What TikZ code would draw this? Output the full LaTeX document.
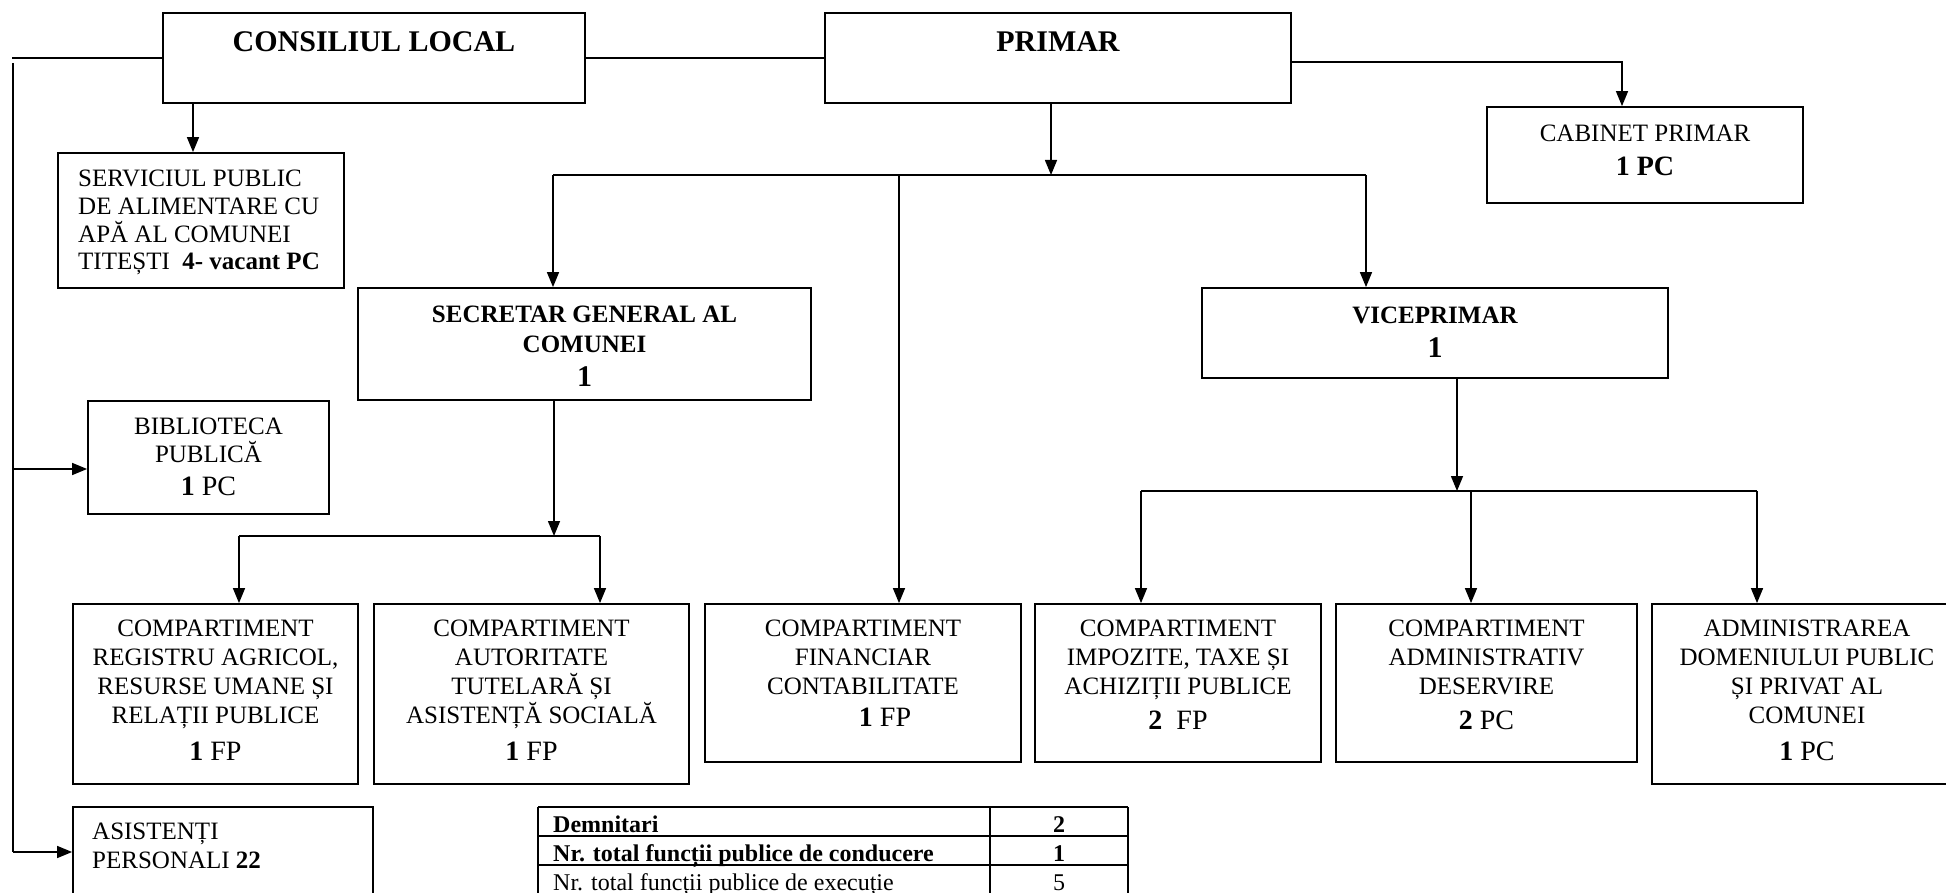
\documentclass[tikz,border=0pt]{standalone}
\usepackage{fontspec}
\setmainfont{Liberation Serif}
\usetikzlibrary{arrows.meta}
\newcommand{\myfs}[2]{\fontsize{#1}{#2}\selectfont}
\begin{document}
\begin{tikzpicture}[x=1pt,y=-1pt,
  box/.style={draw, line width=1.8pt, inner sep=0pt},
  txt/.style={inner sep=0pt, align=center, anchor=north, font=\myfs{25}{29}},
  ln/.style={line width=1.5pt},
  arr/.style={line width=1.5pt, -{Triangle[length=15pt,width=12pt]}},
  cell/.style={inner sep=0pt, anchor=base west, font=\myfs{24}{29}},
  num/.style={inner sep=0pt, anchor=base, font=\myfs{24}{29}}]
\useasboundingbox (0,0) rectangle (1946,893);
\clip (0,0) rectangle (1946,893);
\fill[white] (0,0) rectangle (1946,893);

% boxes
\node[box, minimum width=422pt, minimum height=90pt] (consiliul) at (374,58) {};
\node[txt, anchor=center, font=\bfseries\myfs{30}{36}] (consiliulT) at (374,42) {CONSILIUL LOCAL};
\node[box, minimum width=466pt, minimum height=90pt] (primar) at (1058,58) {};
\node[txt, anchor=center, font=\bfseries\myfs{30}{36}] (primarT) at (1058,42) {PRIMAR};
\node[box, minimum width=316pt, minimum height=96pt] (cabinet) at (1645,155) {};
\node[txt] (cabinetT) at (1645,125) {CABINET PRIMAR\\[5pt]{\myfs{28}{29}\bfseries 1 PC}};
\node[box, minimum width=286pt, minimum height=135pt] (serviciul) at (201,220.5) {};
\node[txt, anchor=north west, align=left, font=\myfs{25}{27.7}] (serviciulT) at (78,170)
  {SERVICIUL PUBLIC\\DE ALIMENTARE CU\\APĂ AL COMUNEI\\TITEȘTI\ \ \textbf{4- vacant PC}};
\node[box, minimum width=453pt, minimum height=112pt] (secretar) at (584.5,344) {};
\node[txt, font=\bfseries\myfs{25}{30}] (secretarT) at (584.5,306)
  {SECRETAR GENERAL AL\\COMUNEI\\[4pt]{\myfs{30}{30}1}};
\node[box, minimum width=466pt, minimum height=90pt] (vice) at (1435,333) {};
\node[txt, font=\bfseries\myfs{25}{29}] (viceT) at (1435,307)
  {VICEPRIMAR\\[4.5pt]{\myfs{30}{29}1}};
\node[box, minimum width=241pt, minimum height=113pt] (biblioteca) at (208.5,457.5) {};
\node[txt, font=\myfs{25}{28}] (bibliotecaT) at (208.5,418)
  {BIBLIOTECA\\PUBLICĂ\\[5pt]{\myfs{28}{28}\textbf{1} PC}};

\node[box, minimum width=285pt, minimum height=180pt] (c1) at (215.5,694) {};
\node[txt] (c1T) at (215.5,620)
  {COMPARTIMENT\\REGISTRU AGRICOL,\\RESURSE UMANE ȘI\\RELAȚII PUBLICE\\[8pt]{\myfs{28}{29}\textbf{1} FP}};
\node[box, minimum width=315pt, minimum height=180pt] (c2) at (531.5,694) {};
\node[txt] (c2T) at (531.5,620)
  {COMPARTIMENT\\AUTORITATE\\TUTELARĂ ȘI\\ASISTENȚĂ SOCIALĂ\\[8pt]{\myfs{28}{29}\textbf{1} FP}};
\node[box, minimum width=316pt, minimum height=158pt] (c3) at (863,683) {};
\node[txt] (c3T) at (863,620)
  {COMPARTIMENT\\FINANCIAR\\CONTABILITATE\\[3pt]\hspace*{44pt}{\myfs{28}{29}\textbf{1} FP}};
\node[box, minimum width=286pt, minimum height=158pt] (c4) at (1178,683) {};
\node[txt] (c4T) at (1178,620)
  {COMPARTIMENT\\IMPOZITE, TAXE ȘI\\ACHIZIȚII PUBLICE\\[6pt]{\myfs{28}{29}\textbf{2}\ \ FP}};
\node[box, minimum width=301pt, minimum height=158pt] (c5) at (1486.5,683) {};
\node[txt] (c5T) at (1486.5,620)
  {COMPARTIMENT\\ADMINISTRATIV\\DESERVIRE\\[6pt]{\myfs{28}{29}\textbf{2} PC}};
\node[box, minimum width=310pt, minimum height=180pt] (c6) at (1807,694) {};
\node[txt] (c6T) at (1807,620)
  {ADMINISTRAREA\\DOMENIULUI PUBLIC\\ȘI PRIVAT AL\\COMUNEI\\[8pt]{\myfs{28}{29}\textbf{1} PC}};
\node[box, minimum width=300pt, minimum height=123pt] (asistenti) at (223,868.5) {};
\node[txt, anchor=north west, align=left] (asistentiT) at (92,823)
  {ASISTENȚI\\PERSONALI \textbf{22}};

% table
\draw[line width=1.8pt] (538,807) -- (1128,807);
\draw[line width=1.5pt] (538,836) -- (1128,836);
\draw[line width=1.5pt] (538,865) -- (1128,865);
\draw[line width=1.5pt] (538,807) -- (538,900);
\draw[line width=1.5pt] (990,807) -- (990,900);
\draw[line width=1.8pt] (1128,807) -- (1128,900);
\node[cell, font=\bfseries\myfs{24}{29}] (t1) at (553,832) {Demnitari};
\node[num, font=\bfseries\myfs{24}{29}] (n1) at (1059,832) {2};
\node[cell, font=\bfseries\myfs{24}{29}] (t2) at (553,861) {Nr. total funcții publice de conducere};
\node[num, font=\bfseries\myfs{24}{29}] (n2) at (1059,861) {1};
\node[cell] (t3) at (553,890) {Nr. total funcții publice de execuție};
\node[num] (n3) at (1059,890) {5};

% coordinates
\coordinate (lc1) at (12,58);
\coordinate (lc2) at (13,63);
\coordinate (lc3) at (13,852);
\coordinate (lb) at (13,469);
\coordinate (sx) at (193,0);
\coordinate (cp) at (1622,62);
\coordinate (j1) at (1051,175);
\coordinate (jL) at (553,175);
\coordinate (jM) at (899,175);
\coordinate (jR) at (1366,175);
\coordinate (j2) at (554,536);
\coordinate (j2L) at (239,536);
\coordinate (j2R) at (600,536);
\coordinate (j3) at (1457,491);
\coordinate (j3L) at (1141,491);
\coordinate (j3M) at (1471,491);
\coordinate (j3R) at (1757,491);

% connectors
\draw[ln] (consiliul.west) -- (lc1);
\draw[ln] (lc2) -- (lc3);
\draw[arr] (lb) -- (biblioteca.west |- lb);
\draw[arr] (lc3) -- (asistenti.west |- lc3);
\draw[ln] (consiliul.east) -- (primar.west);
\draw[arr] (consiliul.south -| sx) -- (serviciul.north -| sx);
\draw[arr] (primar.east |- cp) -- (cp) -- (cabinet.north -| cp);
\draw[arr] (primar.south -| j1) -- (j1);
\draw[ln] (jL) -- (jR);
\draw[arr] (jL) -- (secretar.north -| jL);
\draw[arr] (jR) -- (vice.north -| jR);
\draw[arr] (jM) -- (c3.north -| jM);
\draw[arr] (secretar.south -| j2) -- (j2);
\draw[ln] (j2L) -- (j2R);
\draw[arr] (j2L) -- (c1.north -| j2L);
\draw[arr] (j2R) -- (c2.north -| j2R);
\draw[arr] (vice.south -| j3) -- (j3);
\draw[ln] (j3L) -- (j3R);
\draw[arr] (j3L) -- (c4.north -| j3L);
\draw[arr] (j3M) -- (c5.north -| j3M);
\draw[arr] (j3R) -- (c6.north -| j3R);
\end{tikzpicture}
\end{document}
